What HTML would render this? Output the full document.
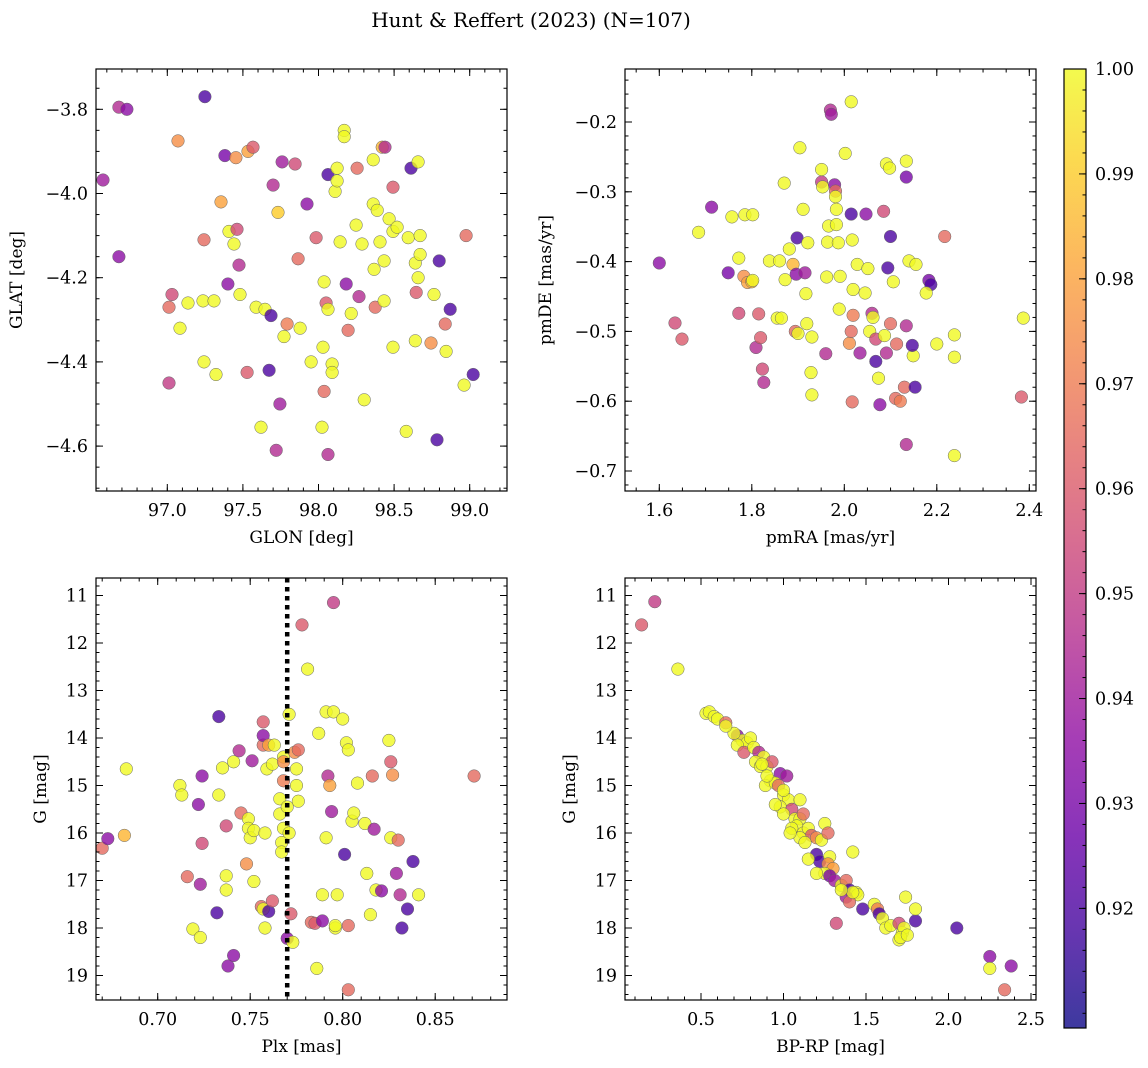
<!DOCTYPE html>
<html><head><meta charset="utf-8"><style>
html,body{margin:0;padding:0;background:#fff;}
svg{display:block;font-family:"DejaVu Serif","Liberation Serif",serif;}
</style></head><body>
<svg id="fig" width="1148" height="1068" viewBox="0 0 1148 1068" xmlns="http://www.w3.org/2000/svg">
<defs><linearGradient id="plasmaGrad" x1="0" y1="1" x2="0" y2="0"></linearGradient></defs>
<text x="531" y="27" text-anchor="middle" font-size="20">Hunt &amp; Reffert (2023) (N=107)</text>
</svg>
<script>
// ---------- DATA ----------
const p1Glon=[96.575,96.68,96.733,96.68,97.071,97.249,97.381,97.454,97.534,97.567,97.355,97.243,97.408,97.441,97.461,97.474,97.401,97.031,97.011,97.084,97.137,97.236,97.309,97.481,97.243,97.322,97.528,97.011,97.587,97.646,97.686,97.673,97.745,97.62,97.72,97.70,97.732,97.759,97.845,97.924,97.865,97.792,97.772,97.878,97.951,97.984,98.037,98.09,98.09,98.023,98.063,98.03,98.037,98.05,98.063,98.063,98.11,98.123,98.123,98.17,98.17,98.143,98.183,98.216,98.196,98.255,98.249,98.268,98.288,98.302,98.362,98.362,98.388,98.368,98.375,98.407,98.434,98.434,98.421,98.44,98.467,98.493,98.493,98.52,98.493,98.58,98.593,98.612,98.659,98.64,98.646,98.672,98.672,98.659,98.64,98.744,98.764,98.798,98.838,98.844,98.871,98.784,98.976,98.963,99.023];
const p1Glat=[-3.968,-3.795,-3.80,-4.15,-3.875,-3.77,-3.91,-3.915,-3.90,-3.89,-4.02,-4.11,-4.09,-4.12,-4.085,-4.17,-4.215,-4.24,-4.27,-4.32,-4.26,-4.255,-4.255,-4.24,-4.40,-4.43,-4.425,-4.45,-4.27,-4.275,-4.29,-4.42,-4.50,-4.555,-4.61,-3.98,-4.045,-3.925,-3.93,-4.025,-4.155,-4.31,-4.34,-4.32,-4.40,-4.105,-4.47,-4.405,-4.425,-4.555,-4.62,-4.365,-4.21,-4.26,-4.275,-3.955,-3.995,-3.94,-3.97,-3.85,-3.865,-4.115,-4.215,-4.285,-4.325,-3.94,-4.075,-4.245,-4.12,-4.49,-3.92,-4.025,-4.04,-4.18,-4.27,-4.115,-4.16,-4.255,-3.89,-3.89,-4.06,-3.985,-4.09,-4.08,-4.365,-4.565,-4.105,-3.94,-3.925,-4.165,-4.235,-4.10,-4.145,-4.20,-4.35,-4.355,-4.24,-4.16,-4.31,-4.375,-4.275,-4.585,-4.10,-4.455,-4.43];
const p1Prob=[.94,.945,.935,.935,.975,.92,.93,.975,.98,.96,.98,.965,1,1,.955,.945,.935,.955,.965,1,1,1,1,1,1,1,.96,.95,1,1,.92,.92,.94,1,.945,.945,.99,.94,.955,.935,.965,.97,1,1,1,.96,.965,1,1,1,.945,1,1,.96,1,.92,1,1,1,1,1,1,.935,1,.965,.965,1,.945,1,1,1,1,1,1,.965,1,1,1,.985,.945,1,.96,1,1,1,1,1,.92,1,1,.96,1,1,1,1,.975,1,.92,.965,1,.92,.92,.965,1,.92];

const p2PmRA=[1.600,1.634,1.649,1.685,1.713,1.749,1.757,1.772,1.772,1.783,1.785,1.791,1.800,1.802,1.802,1.809,1.819,1.815,1.823,1.826,1.838,1.855,1.860,1.864,1.870,1.872,1.881,1.889,1.896,1.898,1.894,1.900,1.904,1.911,1.915,1.917,1.919,1.921,1.928,1.930,1.930,1.951,1.951,1.953,1.964,1.962,1.960,1.966,1.970,1.972,1.979,1.981,1.981,1.983,1.983,1.987,1.991,1.989,2.002,2.011,2.015,2.015,2.017,2.019,2.017,2.015,2.019,2.028,2.034,2.045,2.047,2.051,2.055,2.060,2.062,2.068,2.068,2.074,2.077,2.085,2.087,2.094,2.091,2.091,2.098,2.100,2.100,2.106,2.111,2.113,2.121,2.130,2.134,2.134,2.134,2.134,2.140,2.149,2.147,2.153,2.155,2.183,2.187,2.177,2.217,2.200,2.238,2.238,2.238,2.387,2.383];
const p2PmDE=[-0.402,-0.488,-0.511,-0.358,-0.322,-0.416,-0.336,-0.474,-0.395,-0.421,-0.333,-0.430,-0.429,-0.333,-0.427,-0.523,-0.509,-0.475,-0.554,-0.573,-0.399,-0.481,-0.399,-0.481,-0.2875,-0.426,-0.382,-0.404,-0.418,-0.366,-0.500,-0.503,-0.237,-0.325,-0.416,-0.446,-0.489,-0.373,-0.559,-0.591,-0.508,-0.286,-0.268,-0.293,-0.372,-0.422,-0.532,-0.349,-0.183,-0.189,-0.290,-0.299,-0.307,-0.325,-0.347,-0.373,-0.421,-0.468,-0.245,-0.517,-0.171,-0.332,-0.369,-0.440,-0.601,-0.500,-0.477,-0.404,-0.531,-0.445,-0.332,-0.410,-0.500,-0.474,-0.480,-0.511,-0.543,-0.567,-0.605,-0.328,-0.506,-0.409,-0.531,-0.260,-0.266,-0.364,-0.489,-0.429,-0.596,-0.518,-0.600,-0.580,-0.492,-0.256,-0.279,-0.662,-0.399,-0.535,-0.520,-0.580,-0.404,-0.427,-0.433,-0.445,-0.364,-0.518,-0.505,-0.537,-0.678,-0.481,-0.594];
const p2Prob=[.935,.955,.96,1,.935,.93,1,.955,1,.975,1,.98,.985,1,1,.945,.96,.96,.955,.945,1,1,1,1,1,1,1,.985,.935,.92,.965,1,1,1,.94,1,1,1,1,1,1,.95,1,1,1,1,.945,1,.945,.94,.935,.965,1,1,1,1,1,1,1,.975,1,.92,1,1,.965,.965,.97,1,.94,1,.935,1,1,.945,1,.955,.92,1,.935,.955,1,.92,.945,1,1,.92,.965,1,.965,.965,.97,.965,.945,1,.93,.945,1,1,.92,.92,1,.93,.92,1,.965,1,1,1,1,1,.96];

const p3Plx=[0.670,0.673,0.683,0.682,0.712,0.713,0.716,0.719,0.723,0.722,0.724,0.723,0.724,0.733,0.733,0.732,0.735,0.737,0.737,0.737,0.738,0.741,0.741,0.744,0.745,0.748,0.749,0.749,0.750,0.751,0.752,0.752,0.756,0.757,0.757,0.757,0.757,0.758,0.758,0.759,0.760,0.760,0.762,0.762,0.763,0.766,0.766,0.767,0.767,0.768,0.768,0.768,0.768,0.770,0.770,0.771,0.771,0.772,0.773,0.774,0.775,0.775,0.776,0.776,0.778,0.781,0.783,0.785,0.786,0.787,0.789,0.789,0.791,0.791,0.792,0.793,0.794,0.795,0.795,0.796,0.797,0.796,0.800,0.801,0.802,0.803,0.803,0.803,0.805,0.806,0.808,0.812,0.813,0.815,0.816,0.817,0.818,0.821,0.825,0.826,0.826,0.827,0.829,0.830,0.831,0.832,0.835,0.838,0.841,0.871];
const p3G=[16.32,16.12,14.65,16.05,15.0,15.2,16.92,18.02,18.2,15.4,14.8,17.08,16.22,13.55,15.2,17.68,14.63,16.9,17.2,15.85,18.8,18.58,14.5,14.27,15.58,16.65,15.7,15.9,16.1,14.48,15.95,17.02,17.55,17.6,14.15,13.66,13.95,16.0,18.0,14.65,14.15,17.65,14.55,17.43,14.15,15.6,15.28,16.2,16.4,14.4,14.9,15.9,14.5,18.22,15.45,13.5,16.0,17.7,18.3,14.3,14.65,15.0,15.33,14.25,11.62,12.55,17.88,17.9,18.85,13.9,17.3,17.85,13.45,16.1,14.8,15.0,15.55,11.15,13.45,18.0,17.3,17.95,13.6,16.45,14.1,14.25,17.95,19.3,15.75,15.58,14.95,15.8,16.85,17.72,14.8,15.92,17.2,17.22,14.05,14.5,16.1,14.78,16.85,16.15,17.3,18.0,17.6,16.6,17.3,14.8];
const p3Prob=[.965,.935,1,.985,1,1,.965,1,1,.935,.935,.94,.955,.92,1,.92,1,1,1,.955,.935,.935,1,.945,.965,.975,1,1,1,.94,1,1,.965,1,.965,.96,.935,1,1,1,.98,.92,1,.96,1,1,1,1,1,1,.97,1,.975,.935,1,1,1,.96,1,.975,1,1,1,.965,.96,1,.965,.96,1,1,1,.935,1,1,.945,.98,.94,.95,1,1,1,1,1,.92,1,1,.965,.965,1,1,1,1,1,1,.965,.94,1,.935,1,.96,1,.975,.94,.965,.945,.92,.92,.92,1,.965];
const plxRef=[0.77];

const p4BpRp=[0.14,0.22,0.36,0.53,0.55,0.58,0.60,0.65,0.72,0.75,0.78,0.80,0.72,0.76,0.82,0.85,0.88,0.83,0.86,0.90,0.93,0.98,1.02,0.92,0.89,0.95,0.97,1.00,1.03,0.98,1.05,1.00,1.07,1.10,1.12,1.08,1.12,1.15,1.17,1.10,1.20,1.23,1.25,1.27,1.20,1.22,1.28,1.27,1.30,1.25,1.20,1.28,1.31,1.35,1.38,1.42,1.40,1.44,1.45,1.38,1.40,1.42,1.48,1.55,1.57,1.58,1.60,1.62,1.65,1.70,1.72,1.73,1.74,1.70,1.71,1.75,1.80,1.80,1.32,2.05,2.25,2.25,2.38,2.34,1.00,0.95,1.05,1.13,0.90,1.04,1.15,1.35,1.10,0.87,0.70,0.65];
const p4G=[11.62,11.13,12.55,13.48,13.45,13.55,13.6,13.68,13.95,14.05,14.1,14.0,14.15,14.3,14.2,14.3,14.4,14.5,14.6,14.6,14.5,14.75,14.8,14.9,15.0,14.95,15.0,15.2,15.3,15.45,15.5,15.6,15.7,15.7,15.6,15.85,16.0,15.9,16.05,16.1,16.1,16.15,15.8,16.0,16.45,16.6,16.5,16.65,16.75,16.85,16.85,16.9,17.0,17.1,17.0,16.4,17.2,17.25,17.3,17.35,17.45,17.25,17.6,17.5,17.6,17.7,17.8,18.0,17.95,17.9,18.1,18.0,17.35,18.25,18.2,18.15,17.85,17.6,17.9,18.0,18.6,18.85,18.8,19.3,15.1,15.4,15.9,16.2,14.8,16.0,16.55,17.2,15.3,14.55,13.9,13.75];
const p4Prob=[.96,.95,1,1,1,1,1,.965,.935,1,1,1,1,.96,1,.945,1,1,1,1,.96,.935,.94,1,1,1,.965,1,1,1,.955,1,1,1,.965,1,1,1,.96,1,.975,1,1,.965,.92,.92,1,.975,.98,1,1,.93,.94,1,.965,1,.92,1,1,.94,.965,1,.92,1,.97,.92,1,1,1,.955,1,1,1,1,1,1,.92,1,.955,.92,.935,1,.935,.965,1,1,1,1,1,1,1,1,1,1,1,1];

const cbTicks=[0.92,0.93,0.94,0.95,0.96,0.97,0.98,0.99,1.00];
const vMin=0.9086, vMax=1.0;

// ---------- HELPERS ----------
const NS="http://www.w3.org/2000/svg";
const svg=document.getElementById('fig');
function mk(tag,attrs,parent){const e=document.createElementNS(NS,tag);for(const k in attrs)e.setAttribute(k,attrs[k]);(parent||svg).appendChild(e);return e;}
const stops=[[0,"#0d0887"],[0.1,"#41049d"],[0.2,"#6a00a8"],[0.3,"#8f0da4"],[0.4,"#b12a90"],[0.5,"#cc4778"],[0.6,"#e16462"],[0.7,"#f2844b"],[0.8,"#fca636"],[0.9,"#fcce25"],[1,"#f0f921"]];
function hex(h){return [parseInt(h.substr(1,2),16),parseInt(h.substr(3,2),16),parseInt(h.substr(5,2),16)];}
function plasma(t){t=Math.max(0,Math.min(1,t));for(let i=1;i<stops.length;i++){if(t<=stops[i][0]){const a=stops[i-1],b=stops[i];const f=(t-a[0])/(b[0]-a[0]);const ca=hex(a[1]),cb=hex(b[1]);return "rgb("+ca.map((v,j)=>Math.round(v+(cb[j]-v)*f)).join(",")+")";}}return stops[stops.length-1][1];}
function colorOf(p){return plasma((p-vMin)/(vMax-vMin));}
function fmt(v,d){return (v<0?"\u2212":"")+Math.abs(v).toFixed(d);}
const FS=17.5;

function panel(cfg){
  const g=mk('g',{});
  
  
  const X=v=>cfg.xp0+(v-cfg.xv0)*cfg.xs;
  const Y=v=>cfg.yp0+(v-cfg.yv0)*cfg.ys;
  const clip=mk('clipPath',{id:cfg.name+'-clip'},g);
  mk('rect',{x:cfg.L,y:cfg.T,width:cfg.R-cfg.L,height:cfg.B-cfg.T},clip);
  const pts=mk('g',{'clip-path':'url(#'+cfg.name+'-clip)'},g);
  
  
  for(let i=0;i<cfg.xs_.length;i++){
    const c=mk('circle',{cx:X(cfg.xs_[i]).toFixed(1),cy:Y(cfg.ys_[i]).toFixed(1),r:6.3,fill:colorOf(cfg.ps[i]),'fill-opacity':0.8,stroke:'#666','stroke-width':0.5},pts);
    
    
  }
  if(cfg.extra) cfg.extra(g,X,Y);
  const ax=mk('g',{stroke:'#000','stroke-width':1},g);
  function xt(v,len){const x=X(v);if(x<cfg.L-0.5||x>cfg.R+0.5)return;mk('line',{x1:x,x2:x,y1:cfg.B,y2:cfg.B-len},ax);mk('line',{x1:x,x2:x,y1:cfg.T,y2:cfg.T+len},ax);}
  function yt(v,len){const y=Y(v);if(y<cfg.T-0.5||y>cfg.B+0.5)return;mk('line',{x1:cfg.L,x2:cfg.L+len,y1:y,y2:y},ax);mk('line',{x1:cfg.R,x2:cfg.R-len,y1:y,y2:y},ax);}
  for(let k=-400;k<=400;k++){const v=cfg.xv0+k*cfg.xminor;xt(+v.toFixed(6),3.5);}
  for(let k=-400;k<=400;k++){const v=cfg.yv0+k*cfg.yminor;yt(+v.toFixed(6),3.5);}
  cfg.xticks.forEach(v=>{xt(v,7);const t=mk('text',{x:X(v),y:cfg.B+25,'text-anchor':'middle','font-size':FS,stroke:'none'},g);t.textContent=fmt(v,cfg.xdec);});
  cfg.yticks.forEach(v=>{yt(v,7);const t=mk('text',{x:cfg.L-8,y:Y(v)+6,'text-anchor':'end','font-size':FS,stroke:'none'},g);t.textContent=fmt(v,cfg.ydec);});
  const fr=mk('rect',{x:cfg.L,y:cfg.T,width:cfg.R-cfg.L,height:cfg.B-cfg.T,fill:'none',stroke:'#000','stroke-width':1.2},g);
  
  
  const xl=mk('text',{x:(cfg.L+cfg.R)/2,y:cfg.B+52,'text-anchor':'middle','font-size':17},g);
  xl.textContent=cfg.xlabel;
  
  
  const yl=mk('text',{x:0,y:0,'text-anchor':'middle','font-size':17,transform:'translate('+cfg.ylx+','+((cfg.T+cfg.B)/2)+') rotate(-90)'},g);
  yl.textContent=cfg.ylabel;
  
  
}

panel({name:'glon-glat-panel',L:96,R:507,T:69,B:491,xp0:167.3,xv0:97,xs:151.2,yp0:109.3,yv0:-3.8,ys:-421,
  xs_:p1Glon,ys_:p1Glat,ps:p1Prob,xticks:[97,97.5,98,98.5,99],yticks:[-3.8,-4.0,-4.2,-4.4,-4.6],xminor:0.1,yminor:0.05,xdec:1,ydec:1,
  xlabel:'GLON [deg]',ylabel:'GLAT [deg]',ylx:22});
panel({name:'pm-panel',L:625,R:1036,T:69,B:491,xp0:659.3,xv0:1.6,xs:462.5,yp0:122,yv0:-0.2,ys:-698,
  xs_:p2PmRA,ys_:p2PmDE,ps:p2Prob,xticks:[1.6,1.8,2.0,2.2,2.4],yticks:[-0.2,-0.3,-0.4,-0.5,-0.6,-0.7],xminor:0.05,yminor:0.02,xdec:1,ydec:1,
  xlabel:'pmRA [mas/yr]',ylabel:'pmDE [mas/yr]',ylx:551});
panel({name:'plx-g-panel',L:96,R:507,T:578,B:1000,xp0:157.7,xv0:0.70,xs:1850,yp0:595.5,yv0:11,ys:47.5,
  xs_:p3Plx,ys_:p3G,ps:p3Prob,xticks:[0.70,0.75,0.80,0.85],yticks:[11,12,13,14,15,16,17,18,19],xminor:0.01,yminor:0.2,xdec:2,ydec:0,
  xlabel:'Plx [mas]',ylabel:'G [mag]',ylx:46,
  extra:(g,X,Y)=>{const l=mk('line',{x1:X(plxRef[0]),x2:X(plxRef[0]),y1:578,y2:1000,stroke:'#000','stroke-width':4.5,'stroke-dasharray':'4.5 4.5'},g);}});
panel({name:'cmd-panel',L:625,R:1036,T:578,B:1000,xp0:701,xv0:0.5,xs:165,yp0:595.5,yv0:11,ys:47.5,
  xs_:p4BpRp,ys_:p4G,ps:p4Prob,xticks:[0.5,1.0,1.5,2.0,2.5],yticks:[11,12,13,14,15,16,17,18,19],xminor:0.1,yminor:0.2,xdec:1,ydec:0,
  xlabel:'BP-RP [mag]',ylabel:'G [mag]',ylx:575});

// ---------- COLORBAR ----------
const grad=document.getElementById('plasmaGrad');
for(let i=0;i<=20;i++){mk('stop',{offset:(i/20),'stop-color':plasma(i/20)},grad);}
const cbT=69,cbB=1028,cbL=1064,cbR=1086;
const CY=v=>cbB-(v-vMin)/(vMax-vMin)*(cbB-cbT);
const cb=mk('g',{});


mk('rect',{x:cbL,y:cbT,width:cbR-cbL,height:cbB-cbT,fill:'url(#plasmaGrad)','fill-opacity':0.8},cb);
mk('rect',{x:cbL,y:cbT,width:cbR-cbL,height:cbB-cbT,fill:'none',stroke:'#000','stroke-width':1.2},cb);
for(let v=0.91;v<=1.0001;v+=0.002){const y=CY(v);if(y<cbT||y>cbB)continue;mk('line',{x1:cbR,x2:cbR-3.5,y1:y,y2:y,stroke:'#000','stroke-width':1},cb);}
cbTicks.forEach(v=>{const y=CY(v);mk('line',{x1:cbR,x2:cbR-7,y1:y,y2:y,stroke:'#000','stroke-width':1},cb);const t=mk('text',{x:cbR+9,y:y+6,'font-size':FS},cb);t.textContent=v.toFixed(2);});
</script>
</body></html>
